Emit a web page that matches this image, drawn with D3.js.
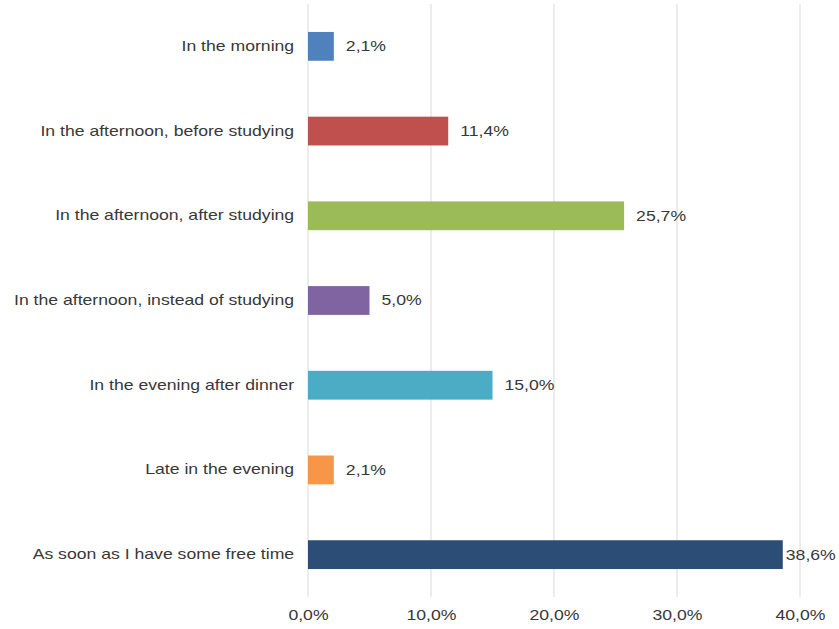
<!DOCTYPE html>
<html>
<head>
<meta charset="utf-8">
<script src="https://cdn.jsdelivr.net/npm/d3@7"></script>
<style>
  html, body { margin: 0; padding: 0; background: #fff; }
  svg { display: block; font-family: "Liberation Sans", Arial, sans-serif; }
</style>
</head>
<body>
<svg id="chart" width="839" height="629"></svg>
<script>
// When students use their free time (share of responses, %)
const categories = [
  "In the morning",
  "In the afternoon, before studying",
  "In the afternoon, after studying",
  "In the afternoon, instead of studying",
  "In the evening after dinner",
  "Late in the evening",
  "As soon as I have some free time"
];
const values = [2.1, 11.4, 25.7, 5.0, 15.0, 2.1, 38.6];
const colors = ["#4F81BD", "#C0504D", "#9BBB59", "#8064A2", "#4BACC6", "#F79646", "#2C4D75"];
const ticks = [0, 10, 20, 30, 40];

const svg = d3.select("#chart");
const margin = { top: 4, right: 39, bottom: 32, left: 308 };
const width = 839 - margin.left - margin.right;
const height = 629 - margin.top - margin.bottom;

// labels use a slightly widened sans face
const stretch = 1.26;
const textColor = "#383838";
const fmt = v => d3.format(".1f")(v).replace(".", ",") + "%";

const x = d3.scaleLinear().domain([0, 40]).range([0, width]);
const y = d3.scaleBand().domain(categories).range([0, height]).paddingInner(0.66).paddingOuter(0.33);

const g = svg.append("g").attr("transform", `translate(${margin.left},${margin.top})`);

// vertical gridlines
g.selectAll("line.grid").data(ticks).join("line")
  .attr("class", "grid")
  .attr("x1", d => x(d)).attr("x2", d => x(d))
  .attr("y1", 0).attr("y2", height)
  .attr("stroke", "#d9d9d9").attr("stroke-width", 1);

// x axis tick labels
const xAxis = d3.axisBottom(x).tickValues(ticks).tickFormat(fmt).tickSize(0).tickPadding(13);
const xg = g.append("g").attr("transform", `translate(0,${height})`).call(xAxis);
xg.select(".domain").remove();
xg.selectAll("text").attr("font-size", 14).attr("fill", textColor)
  .attr("font-family", "'Liberation Sans', Arial, sans-serif")
  .attr("transform", `scale(${stretch},1)`);

// category labels
const yAxis = d3.axisLeft(y).tickSize(0).tickPadding(11);
const yg = g.append("g").call(yAxis);
yg.select(".domain").remove();
yg.selectAll("text").attr("font-size", 14).attr("fill", textColor)
  .attr("font-family", "'Liberation Sans', Arial, sans-serif")
  .attr("transform", `scale(${stretch},1)`);

// bars
g.selectAll("rect.bar").data(categories).join("rect")
  .attr("class", "bar")
  .attr("x", x(0))
  .attr("y", d => y(d))
  .attr("width", (d, i) => x(values[i]) - x(0))
  .attr("height", y.bandwidth())
  .attr("fill", (d, i) => colors[i]);

// value labels
g.selectAll("text.val").data(categories).join("text")
  .attr("class", "val")
  .attr("transform", (d, i) =>
    `translate(${x(values[i]) + (values[i] > 35 ? 3 : 12)},${y(d) + y.bandwidth() / 2}) scale(${stretch},1)`)
  .attr("dy", "0.35em")
  .attr("font-size", 14)
  .attr("fill", textColor)
  .text((d, i) => fmt(values[i]));
</script>
</body>
</html>
